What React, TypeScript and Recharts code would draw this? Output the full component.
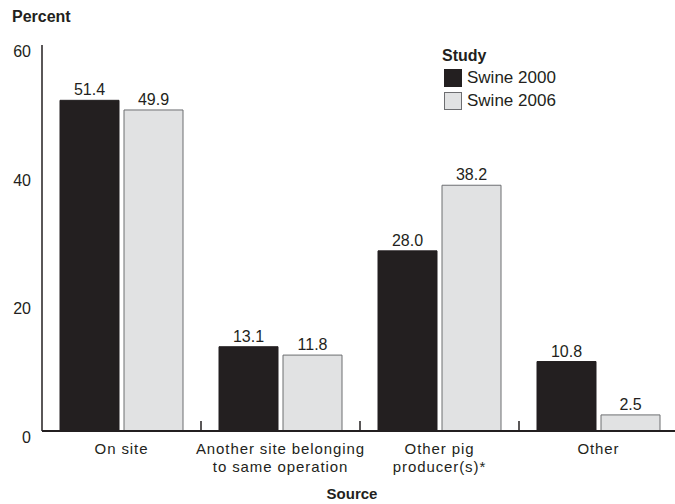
import { BarChart, Bar, XAxis, YAxis, LabelList } from 'recharts';

const categories = ['On site', 'Another site belonging\nto same operation', 'Other pig\nproducer(s)*', 'Other'];
const swine2000 = [51.4, 13.1, 28.0, 10.8];
const swine2006 = [49.9, 11.8, 38.2, 2.5];
const yTicks = [0, 20, 40, 60];

const FONT = '"Liberation Sans", Arial, sans-serif';
const INK = '#231f20';
const LIGHT = '#e1e2e3';

const data = categories.map((name, i) => ({
  name,
  s2000: swine2000[i],
  s2006: swine2006[i],
}));

function CategoryTick(props: any) {
  const { x, y, payload, index } = props;
  const half = payload?.offset ?? 79.5;
  const lines = String(payload.value).split('\n');
  return (
    <g>
      {index > 0 && (
        <line x1={x - half} x2={x - half} y1={y - 10} y2={y} stroke={INK} strokeWidth={1.5} />
      )}
      {lines.map((l, i) => (
        <text
          key={i}
          x={x}
          y={y + 23 + i * 17.5}
          textAnchor="middle"
          fontSize={15}
          letterSpacing={0.9}
          fill={INK}
          fontFamily={FONT}
        >
          {l}
        </text>
      ))}
    </g>
  );
}

function ValueTick(props: any) {
  const { x, y, payload } = props;
  return (
    <text x={x - 11} y={y + 12} textAnchor="end" fontSize={16} fill={INK} fontFamily={FONT}>
      {payload.value}
    </text>
  );
}

function StudyLegend() {
  const items = [
    { label: 'Swine 2000', fill: INK, stroke: INK },
    { label: 'Swine 2006', fill: LIGHT, stroke: '#6d6e71' },
  ];
  return (
    <div style={{ position: 'absolute', left: 444, top: 46, fontFamily: FONT, color: INK }}>
      <div style={{ fontWeight: 'bold', fontSize: 16, lineHeight: '20px', marginLeft: -2 }}>Study</div>
      {items.map((it) => (
        <div key={it.label} style={{ display: 'flex', alignItems: 'center', height: 23, fontSize: 17 }}>
          <span
            style={{
              display: 'inline-block',
              width: 16,
              height: 16,
              background: it.fill,
              border: `1px solid ${it.stroke}`,
              marginRight: 5,
            }}
          />
          {it.label}
        </div>
      ))}
    </div>
  );
}

export default function App() {
  return (
    <div style={{ position: 'absolute', left: 0, top: 0, width: 675, height: 504, overflow: 'hidden', background: '#fff' }}>
      <BarChart
        width={678}
        height={504}
        data={data}
        margin={{ top: 45, right: 0, bottom: 0, left: 0 }}
        barCategoryGap={18}
        barGap={5}
      >
        <XAxis
          dataKey="name"
          interval={0}
          tickSize={0}
          tickMargin={0}
          tick={<CategoryTick />}
          axisLine={{ stroke: INK, strokeWidth: 2 }}
          height={73}
        />
        <YAxis
          domain={[0, 60]}
          ticks={yTicks}
          width={42}
          tickSize={0}
          tickMargin={0}
          tick={<ValueTick />}
          axisLine={{ stroke: INK, strokeWidth: 1.5 }}
        />
        <Bar dataKey="s2000" fill={INK} stroke={INK} isAnimationActive={false}>
          <LabelList dataKey="s2000" position="top" offset={5} fontSize={16} fill={INK} fontFamily={FONT} formatter={(v: any) => Number(v).toFixed(1)} />
        </Bar>
        <Bar dataKey="s2006" fill={LIGHT} stroke="#6d6e71" strokeWidth={1} isAnimationActive={false}>
          <LabelList dataKey="s2006" position="top" offset={5} fontSize={16} fill={INK} fontFamily={FONT} formatter={(v: any) => Number(v).toFixed(1)} />
        </Bar>
      </BarChart>
      <div style={{ position: 'absolute', left: 12, top: 8, fontFamily: FONT, fontWeight: 'bold', fontSize: 16, color: INK }}>
        Percent
      </div>
      <div style={{ position: 'absolute', left: 352, top: 485, transform: 'translateX(-50%)', fontFamily: FONT, fontWeight: 'bold', fontSize: 15, color: INK }}>
        Source
      </div>
      <StudyLegend />
    </div>
  );
}
